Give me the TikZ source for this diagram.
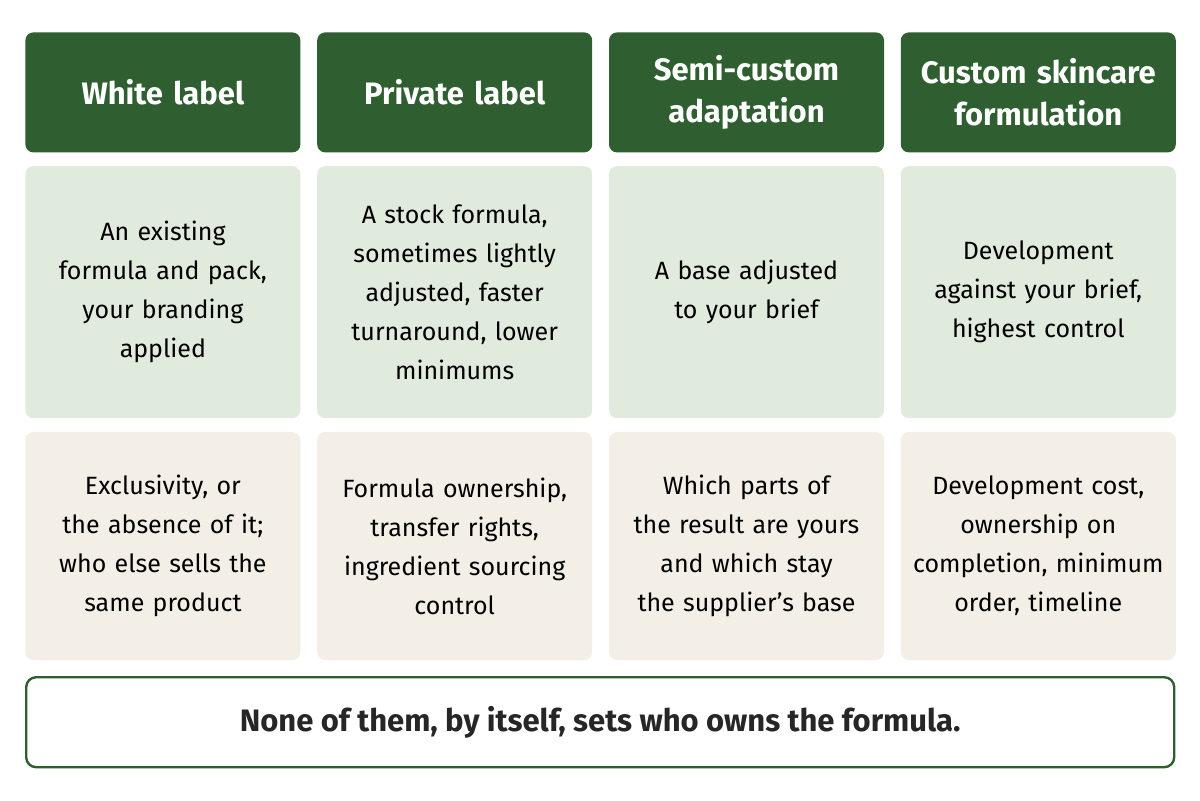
\documentclass[tikz,border=0pt]{standalone}
\usepackage{fontspec}
\setmainfont{Fira Sans}
\usetikzlibrary{positioning}
\definecolor{hdgreen}{HTML}{2F5E30}
\definecolor{midgreen}{HTML}{E1EBDD}
\definecolor{lowbeige}{HTML}{F3EFE6}
\tikzset{
  cell/.style={rectangle, rounded corners=4pt, minimum width=137.5pt, text width=134pt, align=center, inner sep=0pt},
  head/.style={cell, fill=hdgreen, text=white, minimum height=60pt, font=\fontsize{15.5}{21}\selectfont\bfseries},
  what/.style={cell, fill=midgreen, minimum height=126pt, font=\fontsize{12.5}{19.5}\selectfont},
  ask/.style={cell, fill=lowbeige, minimum height=114pt, font=\fontsize{12.5}{19.5}\selectfont},
}
\begin{document}
\begin{tikzpicture}[x=1pt, y=1pt]
\useasboundingbox (0,0) rectangle (600,-400);

\node [head, anchor=north west] (h1) at (12.5,-16) {White label};
\node [head, right=8pt of h1] (h2) {Private label};
\node [head, right=8pt of h2] (h3) {Semi-custom\\adaptation};
\node [head, right=8pt of h3] (h4) {Custom skincare\\formulation};

\node [what, below=6.5pt of h1] (w1) {An existing\\formula and pack,\\your branding\\applied};
\node [what, below=6.5pt of h2] (w2) {A stock formula,\\sometimes lightly\\adjusted, faster\\turnaround, lower\\minimums};
\node [what, below=6.5pt of h3] (w3) {A base adjusted\\to your brief\\[19.5pt]};
\node [what, below=6.5pt of h4] (w4) {Development\\against your brief,\\highest control\\[10pt]};

\node [ask, below=6.5pt of w1] (a1) {Exclusivity, or\\the absence of it;\\who else sells the\\same product};
\node [ask, below=6.5pt of w2] (a2) {Formula ownership,\\transfer rights,\\ingredient sourcing\\control};
\node [ask, below=6.5pt of w3] (a3) {Which parts of\\the result are yours\\and which stay\\the supplier's base};
\node [ask, below=6.5pt of w4] (a4) {Development cost,\\ownership on\\completion, minimum\\order, timeline};

\node [rectangle, rounded corners=5pt, draw=hdgreen, line width=1.2pt, fill=white,
       minimum width=574pt, minimum height=45pt, anchor=north west,
       font=\fontsize{15.5}{18}\selectfont\bfseries, text=black!85]
      (note) at (12.5,-338) {None of them, by itself, sets who owns the formula.};
\end{tikzpicture}
\end{document}
